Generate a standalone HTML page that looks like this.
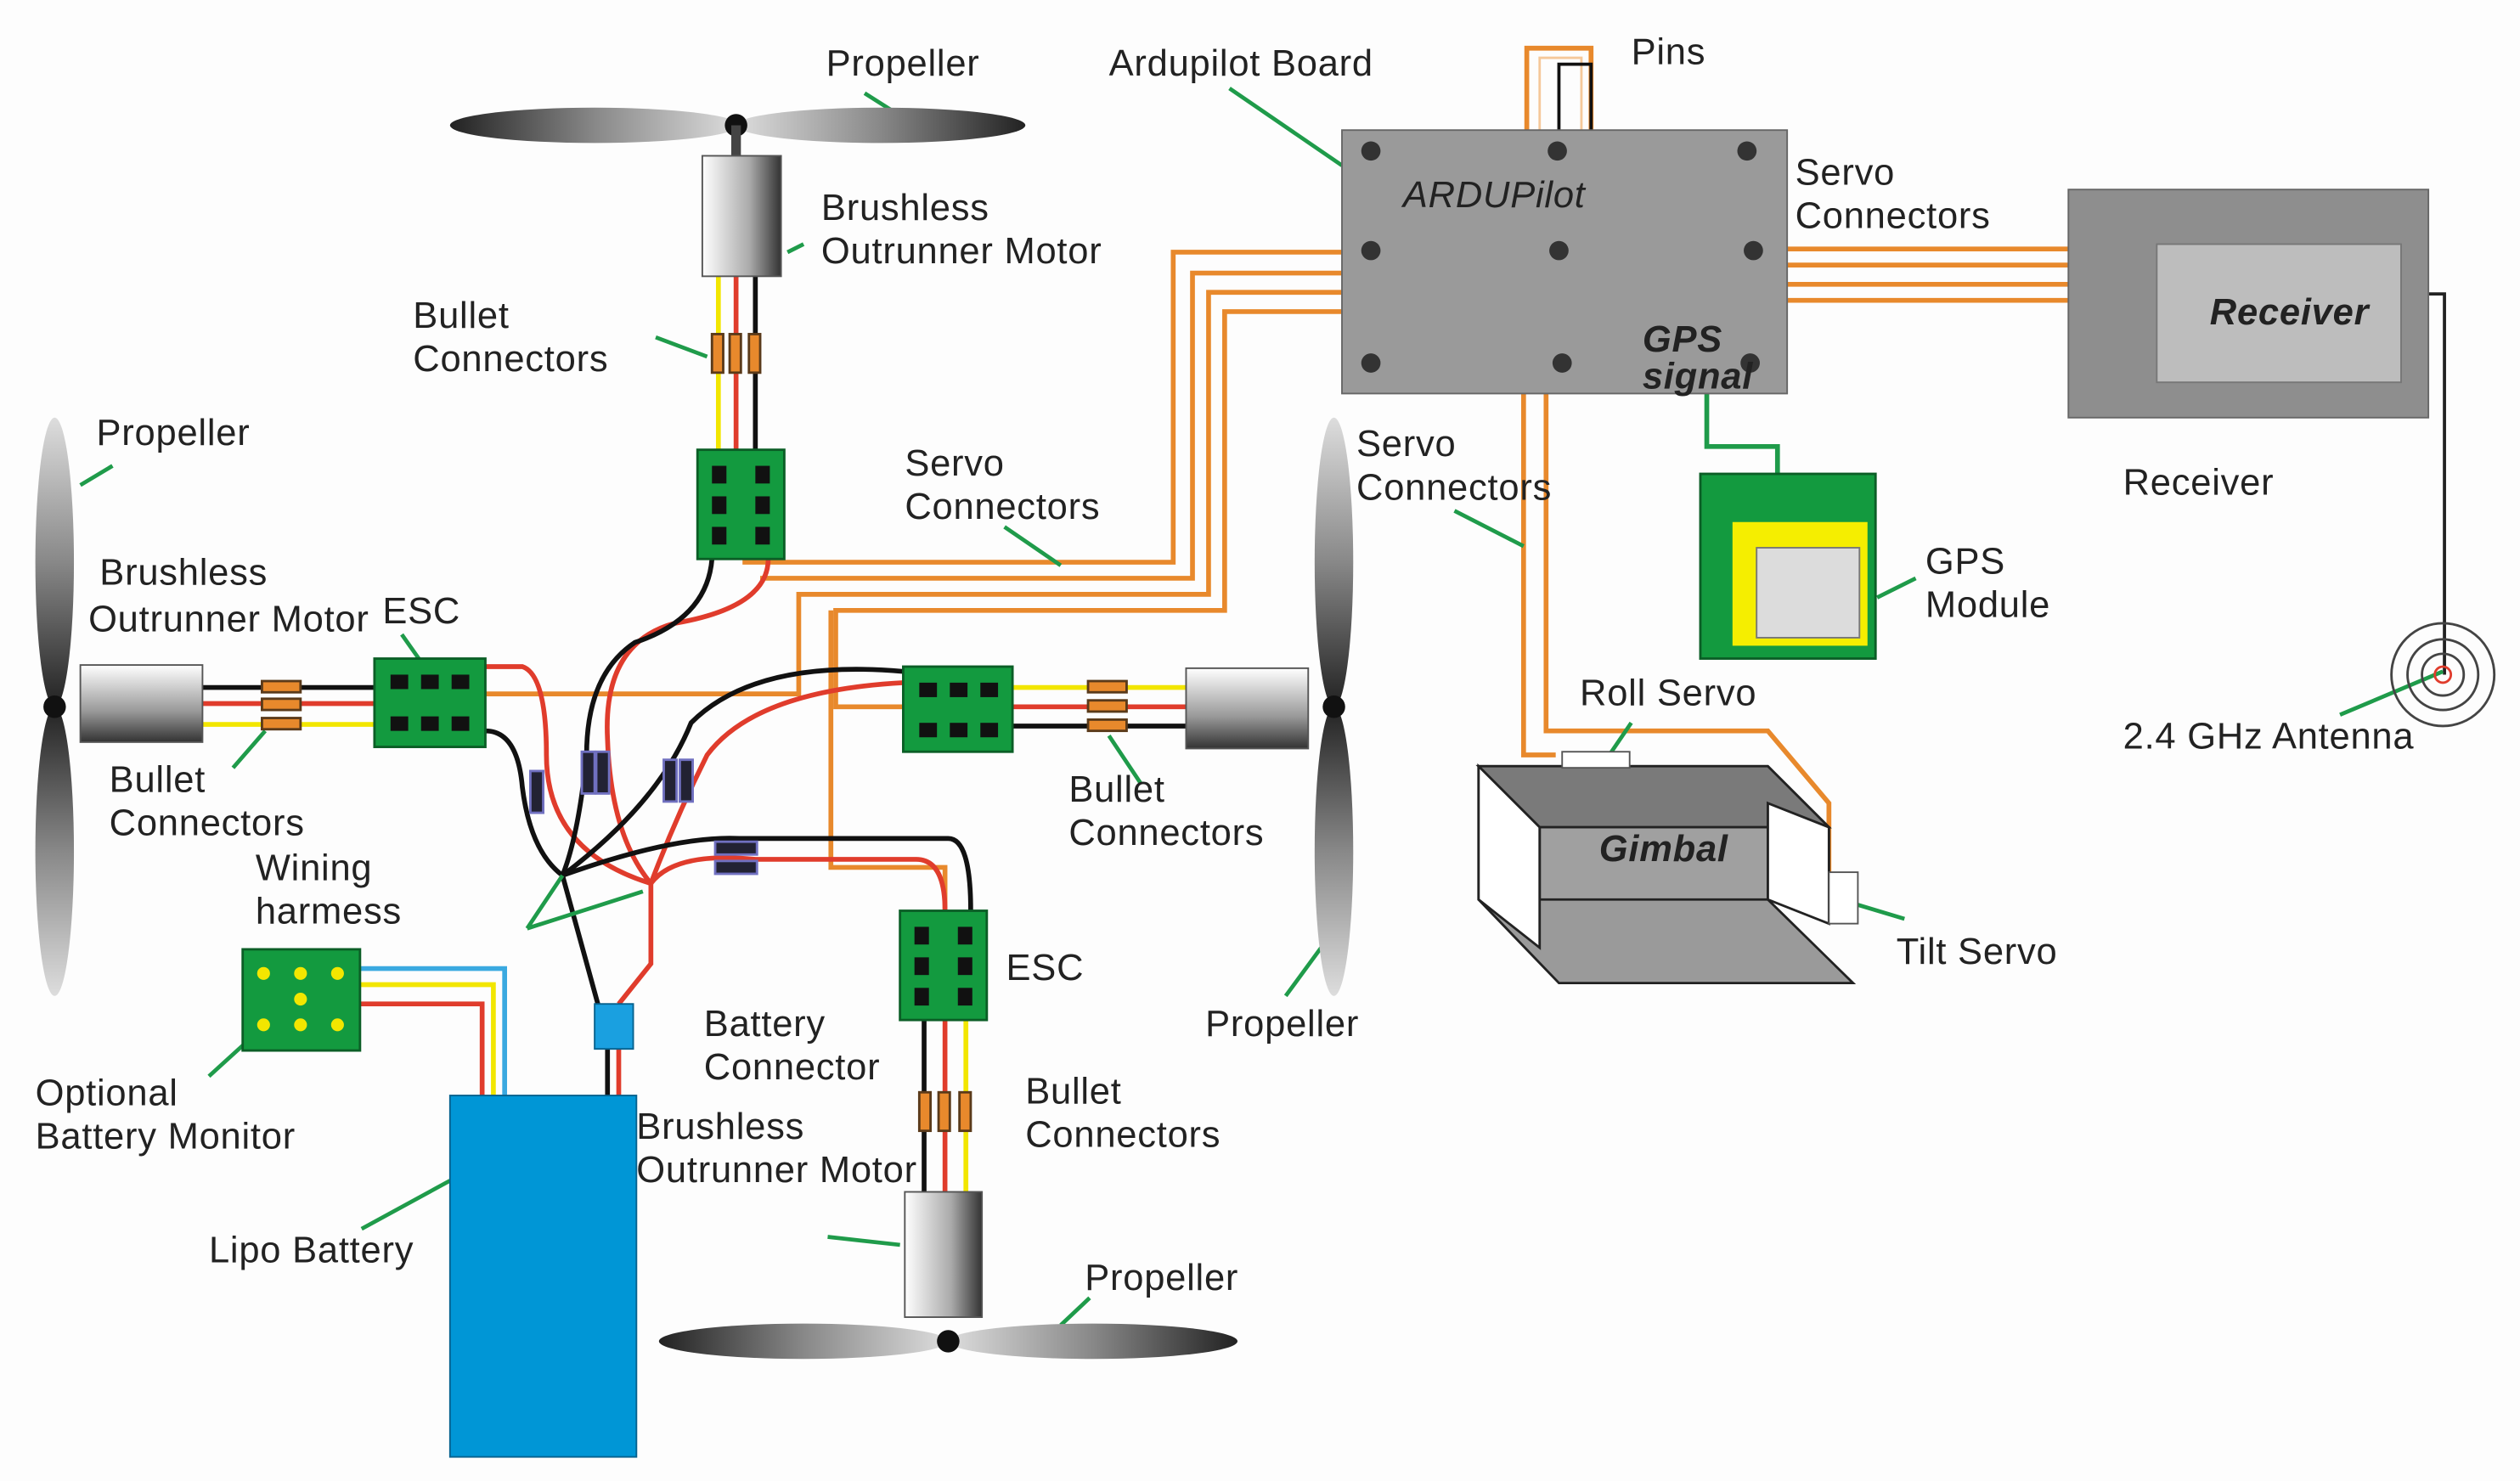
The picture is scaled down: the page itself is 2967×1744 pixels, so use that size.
<!DOCTYPE html>
<html><head><meta charset="utf-8"><style>html,body{margin:0;padding:0;background:#fff}svg{display:block}text{font-family:"Liberation Sans",sans-serif;font-size:23px;letter-spacing:0.4px;fill:#222}</style></head><body>
<svg width="2967" height="1744" viewBox="0 0 1568 922" preserveAspectRatio="none" xmlns="http://www.w3.org/2000/svg">
<defs>
<linearGradient id="ph" x1="0" x2="1"><stop offset="0" stop-color="#222"/><stop offset=".5" stop-color="#888"/><stop offset="1" stop-color="#ddd"/></linearGradient>
<linearGradient id="phr" x1="1" x2="0"><stop offset="0" stop-color="#222"/><stop offset=".5" stop-color="#888"/><stop offset="1" stop-color="#ddd"/></linearGradient>
<linearGradient id="pv" x1="0" y1="0" x2="0" y2="1"><stop offset="0" stop-color="#ddd"/><stop offset=".5" stop-color="#888"/><stop offset="1" stop-color="#222"/></linearGradient>
<linearGradient id="pvr" x1="0" y1="1" x2="0" y2="0"><stop offset="0" stop-color="#ddd"/><stop offset=".5" stop-color="#888"/><stop offset="1" stop-color="#222"/></linearGradient>
<linearGradient id="mh" x1="0" x2="1"><stop offset="0" stop-color="#fff"/><stop offset=".6" stop-color="#aaa"/><stop offset="1" stop-color="#333"/></linearGradient>
<linearGradient id="mv" x1="0" y1="0" x2="0" y2="1"><stop offset="0" stop-color="#fff"/><stop offset=".6" stop-color="#999"/><stop offset="1" stop-color="#333"/></linearGradient>
</defs>
<rect width="1568" height="922" fill="#fdfdfd"/>
<g fill="none" stroke-width="3">
<g stroke="#e8892c">
<path d="M835 157 H730 V350 H462"/><path d="M835 170 H742 V360 H473"/><path d="M835 182 H752 V370 H497 V432 H300"/><path d="M835 194 H762 V380 H520 V440 H562"/>
<path d="M517 380 V540 H588 V567"/>
<path d="M1112 155 H1287"/><path d="M1112 165 H1287"/><path d="M1112 177 H1287"/><path d="M1112 187 H1287"/>
<path d="M950 81 V30 H990 V81"/>
<path d="M948 245 V470 H968"/><path d="M962 245 V455 H1100 L1138 500 V545"/>
</g>
<g stroke="#f5c89a" stroke-width="1.5"><path d="M958 81 V36 H984 V81"/></g>
<path d="M970 81 V40 H990 V81" stroke="#111" stroke-width="2"/>
<path d="M1062 245 V278 H1106 V295" stroke="#1f9b4a"/>
<path d="M1511 183 H1521 V420" stroke="#222" stroke-width="2"/>
<path d="M447 172 V280" stroke="#f2e600"/><path d="M458 172 V280" stroke="#e03c2c"/><path d="M470 172 V280" stroke="#111"/>
<path d="M126 428 H233" stroke="#111"/><path d="M126 438 H233" stroke="#e03c2c"/><path d="M126 451 H233" stroke="#f2e600"/>
<path d="M630 428 H738" stroke="#f2e600"/><path d="M630 440 H738" stroke="#e03c2c"/><path d="M630 452 H738" stroke="#111"/>
<path d="M575 635 V742" stroke="#111"/><path d="M588 635 V742" stroke="#e03c2c"/><path d="M601 635 V742" stroke="#f2e600"/>
<g stroke="#e03c2c"><path d="M302 415 H325 Q340 420 340 470 Q340 530 405 550"/><path d="M478 348 Q478 378 420 388 Q375 400 378 460 Q380 520 405 550 V600 L385 625"/><path d="M562 425 Q470 430 440 470 Q420 510 405 550"/><path d="M405 550 Q420 530 470 535 H570 Q588 535 588 567"/><path d="M385 653 V682"/></g>
<g stroke="#111"><path d="M302 455 Q322 455 325 490 Q330 530 350 545"/><path d="M443 348 Q440 385 395 400 Q365 420 365 470 Q360 520 350 545 L372 625"/><path d="M562 418 Q470 410 430 450 Q410 500 350 545"/><path d="M350 545 Q420 520 460 522 H590 Q604 522 604 567"/><path d="M378 653 V682"/></g>
<path d="M224 603 H314 V682" stroke="#3aa9e0"/><path d="M224 613 H307 V682" stroke="#f2e600"/><path d="M224 625 H300 V682" stroke="#e03c2c"/>
<g stroke="#1f9b4a" stroke-width="2.5">
<path d="M538 58 L560 72"/><path d="M765 55 L835 103"/><path d="M490 157 L500 152"/><path d="M408 210 L440 222"/><path d="M70 290 L50 302"/><path d="M250 395 L262 412"/><path d="M165 455 L145 478"/><path d="M625 328 L660 352"/><path d="M905 318 L948 340"/><path d="M690 458 L710 488"/><path d="M800 620 L822 590"/><path d="M1192 360 L1168 372"/><path d="M1456 445 L1520 418"/><path d="M1015 450 L1000 472"/><path d="M1185 572 L1155 563"/><path d="M130 670 L152 650"/><path d="M225 765 L280 735"/><path d="M515 770 L560 775"/><path d="M660 825 L678 808"/><path d="M328 578 L350 545 M328 578 L400 555"/>
</g>
</g>
<ellipse cx="370" cy="78" rx="90" ry="11" fill="url(#ph)"/><ellipse cx="548" cy="78" rx="90" ry="11" fill="url(#phr)"/><circle cx="458" cy="78" r="7" fill="#111"/>
<rect x="455" y="78" width="6" height="20" fill="#444"/>
<ellipse cx="34" cy="350" rx="12" ry="90" fill="url(#pv)"/><ellipse cx="34" cy="530" rx="12" ry="90" fill="url(#pvr)"/><circle cx="34" cy="440" r="7" fill="#111"/>
<ellipse cx="830" cy="350" rx="12" ry="90" fill="url(#pv)"/><ellipse cx="830" cy="530" rx="12" ry="90" fill="url(#pvr)"/><circle cx="830" cy="440" r="7" fill="#111"/>
<ellipse cx="500" cy="835" rx="90" ry="11" fill="url(#ph)"/><ellipse cx="680" cy="835" rx="90" ry="11" fill="url(#phr)"/><circle cx="590" cy="835" r="7" fill="#111"/>
<rect x="437" y="97" width="49" height="75" fill="url(#mh)" stroke="#555"/>
<rect x="50" y="414" width="76" height="48" fill="url(#mv)" stroke="#555"/>
<rect x="738" y="416" width="76" height="50" fill="url(#mv)" stroke="#555"/>
<rect x="563" y="742" width="48" height="78" fill="url(#mh)" stroke="#555"/>
<g fill="#e8892c" stroke="#5a3a1a" stroke-width="1.5">
<rect x="443" y="208" width="7" height="24"/><rect x="454" y="208" width="7" height="24"/><rect x="466" y="208" width="7" height="24"/>
<rect x="163" y="424" width="24" height="7"/><rect x="163" y="435" width="24" height="7"/><rect x="163" y="447" width="24" height="7"/>
<rect x="677" y="424" width="24" height="7"/><rect x="677" y="436" width="24" height="7"/><rect x="677" y="448" width="24" height="7"/>
<rect x="572" y="680" width="7" height="24"/><rect x="584" y="680" width="7" height="24"/><rect x="597" y="680" width="7" height="24"/>
</g>
<g fill="#223" stroke="#7070c0" stroke-width="1.5">
<rect x="330" y="480" width="8" height="26"/><rect x="362" y="468" width="8" height="26"/><rect x="371" y="468" width="8" height="26"/><rect x="413" y="473" width="8" height="26"/><rect x="423" y="473" width="8" height="26"/>
<rect x="445" y="524" width="26" height="8"/><rect x="445" y="536" width="26" height="8"/>
</g>
<g fill="#139a3f" stroke="#0b5e26" stroke-width="1.5">
<rect x="434" y="280" width="54" height="68"/><rect x="233" y="410" width="69" height="55"/><rect x="562" y="415" width="68" height="53"/><rect x="560" y="567" width="54" height="68"/><rect x="151" y="591" width="73" height="63"/>
<rect x="1058" y="295" width="109" height="115"/>
</g>
<g fill="#111">
<rect x="443" y="290" width="9" height="11"/><rect x="470" y="290" width="9" height="11"/><rect x="443" y="309" width="9" height="11"/><rect x="470" y="309" width="9" height="11"/><rect x="443" y="328" width="9" height="11"/><rect x="470" y="328" width="9" height="11"/>
<rect x="243" y="420" width="11" height="9"/><rect x="262" y="420" width="11" height="9"/><rect x="281" y="420" width="11" height="9"/><rect x="243" y="446" width="11" height="9"/><rect x="262" y="446" width="11" height="9"/><rect x="281" y="446" width="11" height="9"/>
<rect x="572" y="425" width="11" height="9"/><rect x="591" y="425" width="11" height="9"/><rect x="610" y="425" width="11" height="9"/><rect x="572" y="450" width="11" height="9"/><rect x="591" y="450" width="11" height="9"/><rect x="610" y="450" width="11" height="9"/>
<rect x="569" y="577" width="9" height="11"/><rect x="596" y="577" width="9" height="11"/><rect x="569" y="596" width="9" height="11"/><rect x="596" y="596" width="9" height="11"/><rect x="569" y="615" width="9" height="11"/><rect x="596" y="615" width="9" height="11"/>
</g>
<g fill="#f2e600"><circle cx="164" cy="606" r="4"/><circle cx="187" cy="606" r="4"/><circle cx="210" cy="606" r="4"/><circle cx="187" cy="622" r="4"/><circle cx="164" cy="638" r="4"/><circle cx="187" cy="638" r="4"/><circle cx="210" cy="638" r="4"/></g>
<rect x="280" y="682" width="116" height="225" fill="#0096d6" stroke="#06628f"/>
<rect x="370" y="625" width="24" height="28" fill="#1aa0e0" stroke="#06628f"/>
<rect x="835" y="81" width="277" height="164" fill="#9a9a9a" stroke="#666"/>
<g fill="#333"><circle cx="853" cy="94" r="6"/><circle cx="969" cy="94" r="6"/><circle cx="1087" cy="94" r="6"/><circle cx="853" cy="156" r="6"/><circle cx="970" cy="156" r="6"/><circle cx="1091" cy="156" r="6"/><circle cx="853" cy="226" r="6"/><circle cx="972" cy="226" r="6"/><circle cx="1089" cy="226" r="6"/></g>
<text x="873" y="129" font-style="italic" font-size="19" letter-spacing="0" fill="#333">ARDUPilot</text>
<text x="1022" y="219" font-style="italic" font-weight="bold" font-size="17" letter-spacing="0" fill="#222">GPS</text>
<text x="1022" y="242" font-style="italic" font-weight="bold" font-size="17" letter-spacing="0" fill="#222">signal</text>
<rect x="1287" y="118" width="224" height="142" fill="#8e8e8e" stroke="#666"/>
<rect x="1342" y="152" width="152" height="86" fill="#bdbdbd" stroke="#777"/>
<text x="1375" y="202" font-style="italic" font-weight="bold" font-size="19" letter-spacing="0" fill="#333">Receiver</text>
<rect x="1078" y="325" width="84" height="77" fill="#f5ee00"/>
<rect x="1093" y="341" width="64" height="56" fill="#dcdcdc" stroke="#777"/>
<g fill="none" stroke="#444" stroke-width="1.5"><circle cx="1520" cy="420" r="32"/><circle cx="1520" cy="420" r="22"/><circle cx="1520" cy="420" r="13"/><circle cx="1520" cy="420" r="5" stroke="#e03c2c"/></g>
<polygon points="920,477 1100,477 1138,515 1138,560 1100,560 1153,612 970,612 920,560" fill="#9a9a9a" stroke="#222" stroke-width="1.5"/>
<polygon points="920,477 1100,477 1138,515 958,515" fill="#7a7a7a" stroke="#222" stroke-width="1.5"/>
<polygon points="958,515 1100,515 1100,560 958,560" fill="#a0a0a0" stroke="#222" stroke-width="1.5"/>
<polygon points="920,477 958,515 958,590 920,560" fill="#fff" stroke="#222" stroke-width="1.5"/>
<polygon points="1100,500 1138,515 1138,575 1100,560" fill="#fff" stroke="#222" stroke-width="1.5"/>
<rect x="972" y="468" width="42" height="10" fill="#fff" stroke="#555"/>
<rect x="1138" y="543" width="18" height="32" fill="#fff" stroke="#555"/>
<text x="995" y="536" font-style="italic" font-weight="bold" font-size="19" letter-spacing="0" fill="#333">Gimbal</text>
<text x="514" y="47">Propeller</text>
<text x="690" y="47">Ardupilot Board</text>
<text x="1015" y="40">Pins</text>
<text x="511" y="137">Brushless</text><text x="511" y="164">Outrunner Motor</text>
<text x="1117" y="115">Servo</text><text x="1117" y="142">Connectors</text>
<text x="257" y="204">Bullet</text><text x="257" y="231">Connectors</text>
<text x="60" y="277">Propeller</text>
<text x="563" y="296">Servo</text><text x="563" y="323">Connectors</text>
<text x="844" y="284">Servo</text><text x="844" y="311">Connectors</text>
<text x="1321" y="308">Receiver</text>
<text x="1198" y="357">GPS</text><text x="1198" y="384">Module</text>
<text x="62" y="364">Brushless</text><text x="55" y="393">Outrunner Motor</text><text x="238" y="388">ESC</text>
<text x="983" y="439">Roll Servo</text>
<text x="1321" y="466">2.4 GHz Antenna</text>
<text x="68" y="493">Bullet</text><text x="68" y="520">Connectors</text>
<text x="665" y="499">Bullet</text><text x="665" y="526">Connectors</text>
<text x="159" y="548">Wining</text><text x="159" y="575">harmess</text>
<text x="1180" y="600">Tilt Servo</text>
<text x="626" y="610">ESC</text>
<text x="750" y="645">Propeller</text>
<text x="438" y="645">Battery</text><text x="438" y="672">Connector</text>
<text x="22" y="688">Optional</text><text x="22" y="715">Battery Monitor</text>
<text x="638" y="687">Bullet</text><text x="638" y="714">Connectors</text>
<text x="396" y="709">Brushless</text><text x="396" y="736">Outrunner Motor</text>
<text x="130" y="786">Lipo Battery</text>
<text x="675" y="803">Propeller</text>
</svg>
</body></html>
